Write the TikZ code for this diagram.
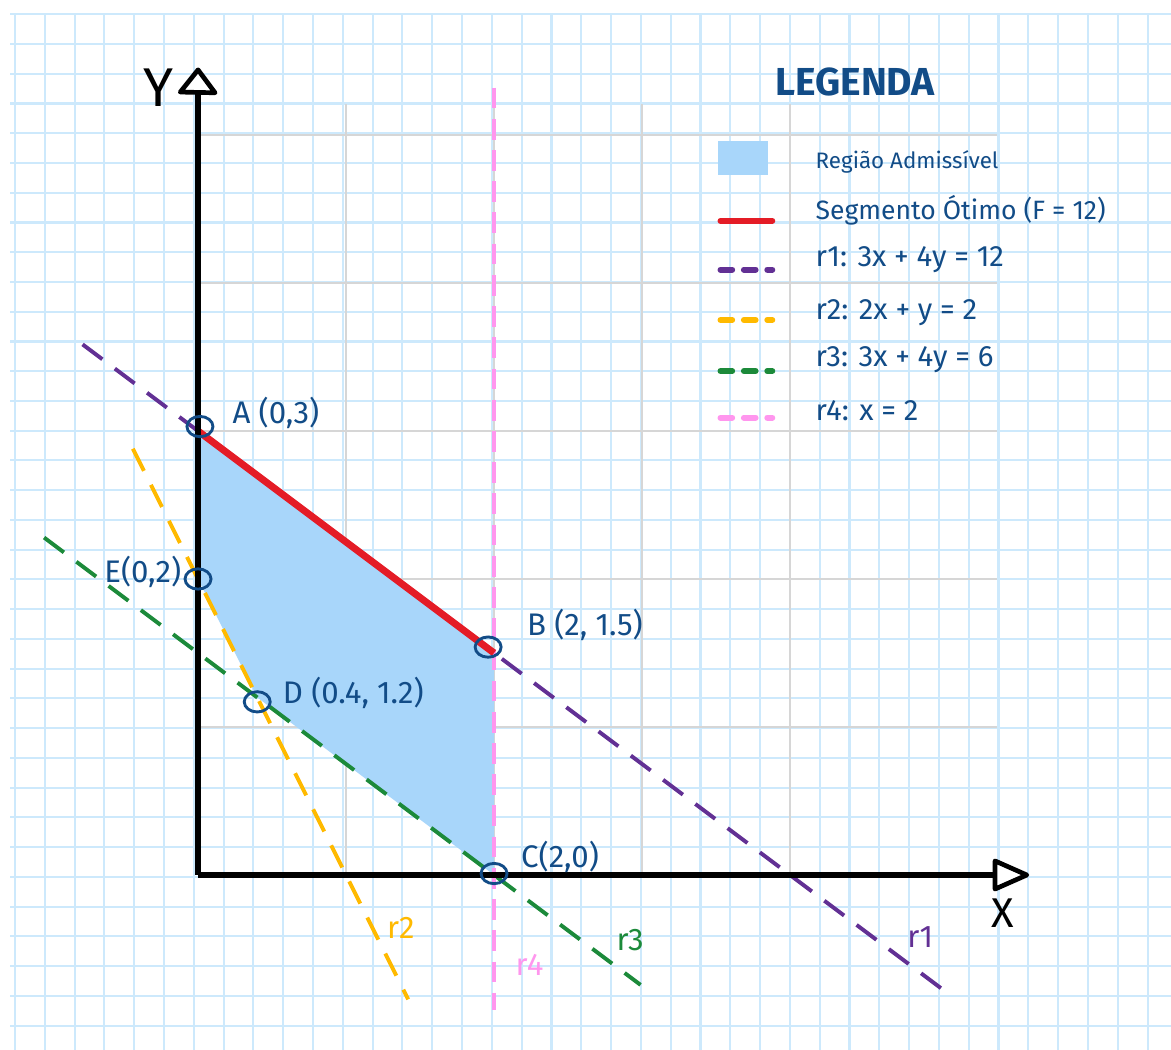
\documentclass[tikz,border=0pt]{standalone}
\usepackage{fontspec}
\setmainfont{Fira Sans}
\usetikzlibrary{shapes.geometric}
\definecolor{ink}{RGB}{18,76,135}
\definecolor{gridblue}{RGB}{205,233,252}
\definecolor{majgrey}{RGB}{214,214,214}
\definecolor{regfill}{RGB}{168,214,250}
\definecolor{optred}{RGB}{228,28,38}
\definecolor{rpurple}{RGB}{98,48,148}
\definecolor{ryellow}{RGB}{255,186,0}
\definecolor{rgreen}{RGB}{28,138,58}
\definecolor{rpink}{RGB}{255,150,238}
\tikzset{
  finegrid/.style={draw=gridblue, line width=0.8pt},
  majorgrid/.style={draw=majgrey, line width=1.1pt},
  axisline/.style={draw=black, line width=2.6pt},
  axistip/.style={draw=black, fill=white, line width=1.8pt, line join=round},
  rline/.style={line width=1.5pt, dash pattern=on 9.5pt off 6pt},
  legdash/.style={line width=2.3pt, line cap=round, dash pattern=on 4.5pt off 4.5pt},
  ptmark/.style={ellipse, draw=ink, line width=1.1pt, minimum width=10pt, minimum height=7.8pt, inner sep=0pt},
  ptlabel/.style={text=ink, font=\fontsize{12}{14}\selectfont, inner sep=0pt},
  legtext/.style={text=ink, anchor=west, inner sep=0pt},
  rlabel/.style={font=\fontsize{12}{14}\selectfont, inner sep=0pt}
}
\begin{document}
\begin{tikzpicture}[x=2cm,y=2cm]
\useasboundingbox (-1.338,-1.182) rectangle (6.574,5.912);
\fill[white] (-1.338,-1.182) rectangle (6.574,5.912);
% fine squared paper (pixel scope)
\begin{scope}[shift={(-1.338,5.912)}, x=0.013514cm, y=-0.013514cm]
  \foreach \k in {0,...,38} \draw[finegrid] ({15+29.79*\k},14) -- ({15+29.79*\k},1050);
  \foreach \k in {0,...,34} \draw[finegrid] (10,{14.3+29.73*\k}) -- (1171,{14.3+29.73*\k});
\end{scope}
% major grid
\foreach \i in {1,2,3,4} \draw[majorgrid] (\i,0) -- (\i,5.21);
\foreach \j in {1,2,3,4,5} \draw[majorgrid] (0,\j) -- (5.4,\j);
% vertices
\coordinate (A) at (0,3);
\coordinate (B) at (2,1.5);
\coordinate (C) at (2,0);
\coordinate (D) at (0.4,1.2);
\coordinate (E) at (0,2);
\coordinate (O) at (0,0);
% feasible region
\fill[regfill] (A) -- (B) -- (C) -- (D) -- (E) -- cycle;
% constraint lines
\coordinate (r1s) at (-0.78,3.585);
\coordinate (r1e) at (5.05,-0.7875);
\coordinate (r2s) at (-0.44,2.88);
\coordinate (r2e) at (1.42,-0.84);
\coordinate (r3s) at (-1.04,2.28);
\coordinate (r3e) at (2.99,-0.7425);
\coordinate (r4s) at (2,5.32);
\coordinate (r4e) at (2,-0.91);
\draw[rline, rpurple] (r1s) -- (r1e);
\draw[rline, ryellow] (r2s) -- (r2e);
\draw[rline, rgreen] (r3s) -- (r3e);
\draw[rline, rpink, line width=1.6pt, dash pattern=on 8pt off 4pt] (r4s) -- (r4e);
% optimal segment
\draw[optred, line width=2.7pt] (A) -- (B);
% axes
\coordinate (Yend) at (0,5.29);
\coordinate (Xend) at (5.385,0);
\draw[axisline] (O) -- (Yend);
\draw[axisline] (O) -- (Xend);
\draw[axistip] (-0.12,5.29) -- (0,5.44) -- (0.115,5.285) -- cycle;
\draw[axistip] (5.385,0.095) -- (5.6,0) -- (5.385,-0.095) -- cycle;
\node[font=\fontsize{21}{23}\selectfont] (ylab) at (-0.27,5.32) {Y};
\node[font=\fontsize{16}{18}\selectfont] (xlab) at (5.44,-0.26) {X};
% vertex marks
\node[ptmark] (mA) at (0.013,3.03) {};
\node[ptmark] (mE) at (0,2.0) {};
\node[ptmark] (mD) at (0.4,1.17) {};
\node[ptmark] (mB) at (1.96,1.54) {};
\node[ptmark] (mC) at (2,0.01) {};
\node[ptlabel, anchor=west] (lA) at (0.23,3.12) {A (0,3)};
\node[ptlabel, anchor=east] (lE) at (-0.11,2.05) {E(0,2)};
\node[ptlabel, anchor=west] (lB) at (2.22,1.69) {B (2, 1.5)};
\node[ptlabel, anchor=west] (lD) at (0.57,1.23) {D (0.4, 1.2)};
\node[ptlabel, anchor=west] (lC) at (2.18,0.12) {C(2,0)};
% line labels
\node[rlabel, text=ryellow] (t2) at (1.37,-0.36) {r2};
\node[rlabel, text=rpink] (t4) at (2.24,-0.61) {r4};
\node[rlabel, text=rgreen] (t3) at (2.92,-0.44) {r3};
\node[rlabel, text=rpurple] (t1) at (4.88,-0.42) {r1};
% legend
\node[text=ink, font=\bfseries\fontsize{15}{17}\selectfont] (leg) at (4.44,5.36) {LEGENDA};
\fill[regfill] (3.51,4.73) rectangle (3.85,4.96);
\draw[optred, line width=2.3pt, line cap=round] (3.53,4.42) -- (3.88,4.42);
\draw[legdash, rpurple] (3.53,4.09) -- (3.88,4.09);
\draw[legdash, ryellow] (3.53,3.75) -- (3.88,3.75);
\draw[legdash, rgreen] (3.53,3.405) -- (3.88,3.405);
\draw[legdash, rpink] (3.53,3.09) -- (3.88,3.09);
\node[legtext, font=\fontsize{8.6}{10}\selectfont] (g1) at (4.17,4.82) {Região Admissível};
\node[legtext, font=\fontsize{10.2}{12}\selectfont] (g2) at (4.17,4.49) {Segmento Ótimo (F = 12)};
\node[legtext, font=\fontsize{11.3}{13}\selectfont] (g3) at (4.17,4.155) {r1: 3x + 4y = 12};
\node[legtext, font=\fontsize{11.3}{13}\selectfont] (g4) at (4.17,3.80) {r2: 2x + y = 2};
\node[legtext, font=\fontsize{11.3}{13}\selectfont] (g5) at (4.17,3.48) {r3: 3x + 4y = 6};
\node[legtext, font=\fontsize{11.3}{13}\selectfont] (g6) at (4.17,3.14) {r4: x = 2};
\end{tikzpicture}
\end{document}
